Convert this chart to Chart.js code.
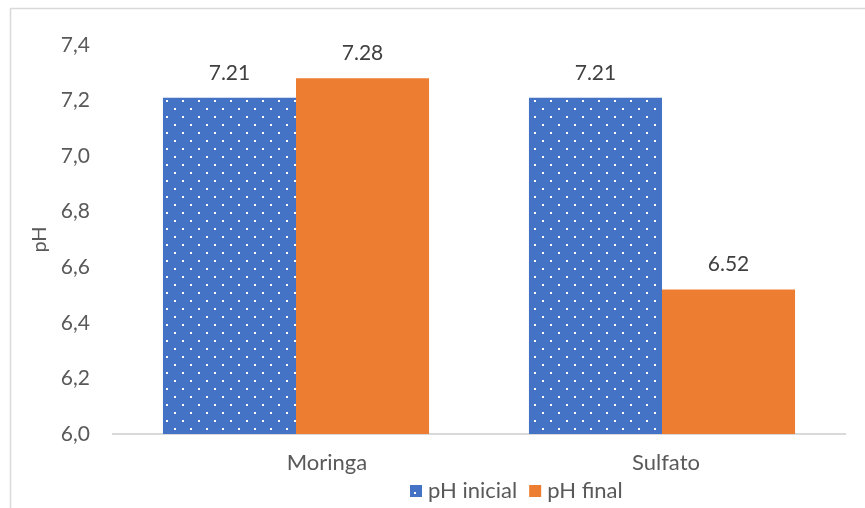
<!DOCTYPE html>
<html>
<head>
<meta charset="utf-8">
<script src="https://cdn.jsdelivr.net/npm/chart.js@4.4.1/dist/chart.umd.min.js"></script>
<style>
  html, body { margin: 0; padding: 0; background: #fff; }
  #wrap { width: 865px; height: 508px; position: relative; }
</style>
</head>
<body>
<div id="wrap"><canvas id="c" width="865" height="508"></canvas></div>
<script>
// pH before and after treatment, per coagulant
const categories = ['Moringa', 'Sulfato'];
const phInicial = [7.21, 7.21];
const phFinal = [7.28, 6.52];
const seriesNames = ['pH inicial', 'pH final'];
const yTicks = [6.0, 6.2, 6.4, 6.6, 6.8, 7.0, 7.2, 7.4];

const BLUE = '#4472C4';
const ORANGE = '#ED7D31';
const FONT = 'Lato, "Open Sans", sans-serif';

// Blue fill with a staggered grid of small white dots
function dotPattern() {
  const t = document.createElement('canvas');
  t.width = 16; t.height = 16;
  const g = t.getContext('2d');
  g.fillStyle = BLUE;
  g.fillRect(0, 0, 16, 16);
  g.fillStyle = '#ffffff';
  g.fillRect(6, 4, 2, 2);
  g.fillRect(14, 12, 2, 2);
  return document.getElementById('c').getContext('2d').createPattern(t, 'repeat');
}

// Light frame around the whole figure
const frame = {
  id: 'frame',
  beforeDraw(chart) {
    const ctx = chart.ctx;
    ctx.save();
    ctx.fillStyle = '#ffffff';
    ctx.fillRect(0, 0, chart.width, chart.height);
    ctx.strokeStyle = '#D9D9D9';
    ctx.lineWidth = 1.5;
    ctx.strokeRect(10.5, 8.5, chart.width + 10, chart.height + 10);
    ctx.restore();
  }
};

// Value labels above each bar
const valueLabels = {
  id: 'valueLabels',
  afterDatasetsDraw(chart) {
    const ctx = chart.ctx;
    ctx.save();
    ctx.font = '21px ' + FONT;
    ctx.fillStyle = '#404040';
    ctx.textAlign = 'center';
    ctx.textBaseline = 'middle';
    chart.data.datasets.forEach((ds, di) => {
      chart.getDatasetMeta(di).data.forEach((bar, i) => {
        ctx.fillText(ds.data[i].toFixed(2), bar.x, bar.y - 25);
      });
    });
    ctx.restore();
  }
};

// Category names under the axis, and the series key below them
const categoryShift = [31, 4];
const legendLeft = 410;
const legendY = 491;
const captions = {
  id: 'captions',
  afterDraw(chart) {
    const ctx = chart.ctx;
    const xs = chart.scales.x;
    ctx.save();
    ctx.font = '22px ' + FONT;
    ctx.fillStyle = '#595959';
    ctx.textAlign = 'center';
    ctx.textBaseline = 'middle';
    categories.forEach((name, i) => {
      ctx.fillText(name, xs.getPixelForValue(i) + categoryShift[i], chart.chartArea.bottom + 29);
    });

    ctx.textAlign = 'left';
    let x = legendLeft;
    chart.data.datasets.forEach((ds) => {
      ctx.fillStyle = ds.backgroundColor;
      ctx.fillRect(x, legendY - 6, 12, 12);
      x += 18;
      ctx.fillStyle = '#595959';
      ctx.fillText(ds.label, x, legendY);
      x += ctx.measureText(ds.label).width + 12;
    });
    ctx.restore();
  }
};

new Chart(document.getElementById('c'), {
  type: 'bar',
  data: {
    labels: categories,
    datasets: [
      { label: seriesNames[0], data: phInicial, backgroundColor: dotPattern(), borderWidth: 0 },
      { label: seriesNames[1], data: phFinal, backgroundColor: ORANGE, borderWidth: 0 }
    ]
  },
  options: {
    responsive: false,
    animation: false,
    devicePixelRatio: 1,
    layout: { padding: { top: 45, left: 11, right: 20, bottom: 0 } },
    datasets: { bar: { categoryPercentage: 0.727, barPercentage: 1.0 } },
    plugins: {
      legend: { display: false },
      tooltip: { enabled: false }
    },
    scales: {
      x: {
        grid: { display: false },
        border: { display: true, color: '#D9D9D9', width: 2 },
        ticks: { display: false },
        afterFit(s) { s.height = 74; }
      },
      y: {
        min: 6.0,
        max: 7.4,
        afterBuildTicks(s) { s.ticks = yTicks.map(v => ({ value: v })); },
        grid: { display: false, drawTicks: false },
        border: { display: false },
        ticks: {
          padding: 23,
          color: '#595959',
          font: { family: FONT, size: 21 },
          callback: v => Number(v).toFixed(1).replace('.', ',')
        },
        title: {
          display: true,
          text: 'pH',
          color: '#595959',
          font: { family: FONT, size: 20 },
          padding: { top: 17, bottom: 0 }
        },
        afterFit(s) { s.width = 102; }
      }
    }
  },
  plugins: [frame, valueLabels, captions]
});
</script>
</body>
</html>
